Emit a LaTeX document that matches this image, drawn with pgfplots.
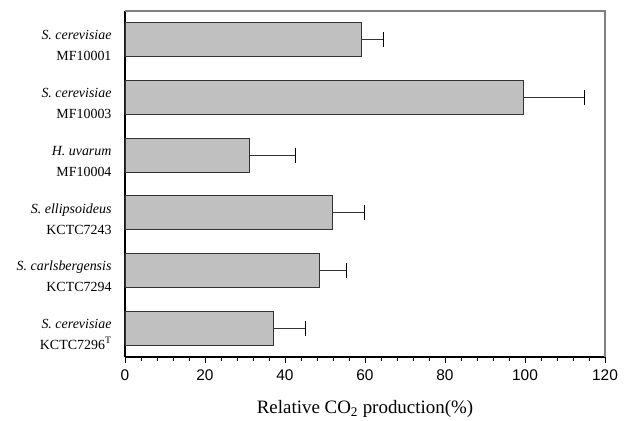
\documentclass[border=0pt]{standalone}
\usepackage{fontspec}
\setmainfont{Liberation Serif}
\newfontfamily\arial{Liberation Sans}
\usepackage{pgfplots}
\pgfplotsset{compat=1.18}
\definecolor{barfill}{HTML}{C0C0C0}
\definecolor{baredge}{HTML}{333333}
\definecolor{frame}{HTML}{808080}

\begin{document}
\begin{tikzpicture}
\begin{axis}[
    scale only axis, width=480bp, height=346bp,
    xbar, bar width=0.59, bar shift=0pt,
    xmin=0, xmax=120, ymin=-0.5, ymax=5.5, y dir=reverse,
    clip=false,
    axis lines=left, axis line style={-, black, line width=1.1bp},
    xtick={0,20,...,120}, minor x tick num=4,
    tick align=outside, major tick length=6bp, minor tick length=3.5bp,
    tick style={black, line width=0.9bp},
    /pgf/number format/assume math mode=true,
    xticklabel style={font=\fontsize{15.5}{15.5}\arial, yshift=-3bp},
    ytick={0,...,5}, ytick style={draw=none},
    yticklabels={
      {\textit{S. cerevisiae}\\MF10001},
      {\textit{S. cerevisiae}\\MF10003},
      {\textit{H. uvarum}\\MF10004},
      {\textit{S. ellipsoideus}\\KCTC7243},
      {\textit{S. carlsbergensis}\\KCTC7294},
      {\textit{S. cerevisiae}\\KCTC7296\textsuperscript{T}}},
    yticklabel style={align=right, font=\fontsize{14}{21}\selectfont, xshift=-4bp, yshift=-6bp},
    extra y ticks={-0.5,0.5,...,5.5}, extra y tick labels={},
    extra y tick style={tick align=center, major tick length=8bp, tick style={draw=black, line width=1bp}},
    xlabel={Relative CO\textsubscript{2} production(\%)},
    xlabel style={font=\fontsize{19}{19}\selectfont, yshift=-13bp},
]
\addplot[fill=barfill, draw=baredge, line width=0.9bp,
    error bars/.cd, x dir=plus, x explicit,
    error mark=|,
    error bar style={baredge, line width=1.2bp},
    error mark options={black, mark size=7.5bp, line width=1.2bp}]
  coordinates {
    (59.2,0) +- (5.4,0)
    (99.7,1) +- (15.1,0)
    (31.2,2) +- (11.4,0)
    (51.8,3) +- (8.0,0)
    (48.6,4) +- (6.8,0)
    (37.2,5) +- (7.9,0)
  };
\draw[frame, line width=1.4bp] (axis cs:0,-0.5) -- (axis cs:120,-0.5) -- (axis cs:120,5.5);
\path (axis cs:-31.25,-0.6908) rectangle (axis cs:126,6.5925);
\end{axis}
\end{tikzpicture}
\end{document}
